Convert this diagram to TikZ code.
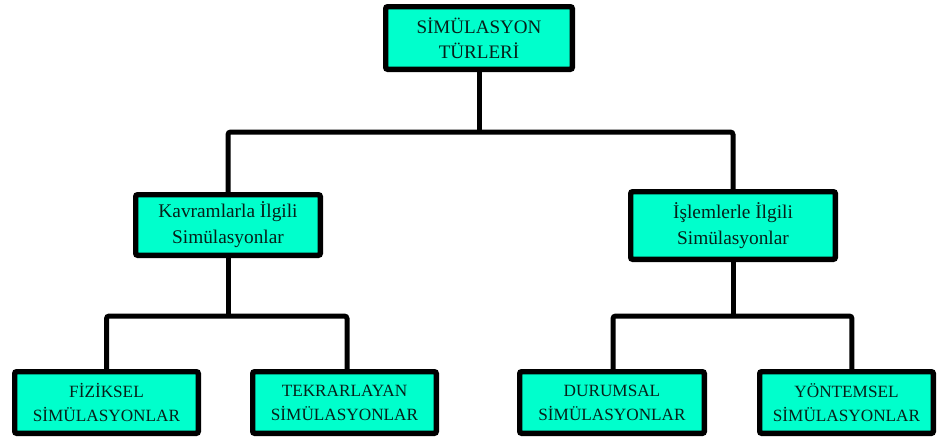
\documentclass[tikz,border=0pt]{standalone}
\usepackage{fontspec}
\setmainfont{Liberation Serif}
\definecolor{boxfill}{HTML}{00FFCC}
\definecolor{boxtext}{HTML}{06201A}
\begin{document}
\begin{tikzpicture}[x=0.75pt,y=-0.75pt,
  box/.style={draw=black,fill=boxfill,line width=4pt,rounded corners=1.5pt,
    inner sep=0pt,align=center,text=boxtext},
  topbox/.style={box,minimum width=140pt,minimum height=47pt,
    font=\fontsize{14.3}{18.75}\selectfont},
  midbox/.style={box,font=\fontsize{14.5}{19.5}\selectfont},
  leafbox/.style={box,minimum height=46.25pt,
    font=\fontsize{12.9}{18}\selectfont},
  conn/.style={draw=black,line width=3.75pt,rounded corners=2pt}]
\useasboundingbox (0,0) rectangle (937,439);

% root
\node[topbox] (root) at (479,38) {SİMÜLASYON\\TÜRLERİ};

% second level
\node[midbox,minimum width=138.5pt,minimum height=45.5pt] (kav) at (228,225)
  {Kavramlarla İlgili\\Simülasyonlar};
\node[midbox,minimum width=153.5pt,minimum height=50.75pt] (isl) at (733,225.5)
  {İşlemlerle İlgili\\Simülasyonlar};

% leaves
\node[leafbox,minimum width=137.75pt] (fiz) at (106.5,402.5) {FİZİKSEL\\SİMÜLASYONLAR};
\node[leafbox,minimum width=137.75pt] (tek) at (344.5,402.5) {TEKRARLAYAN\\SİMÜLASYONLAR};
\node[leafbox,minimum width=138.5pt] (dur) at (612,402.5) {DURUMSAL\\SİMÜLASYONLAR};
\node[leafbox,minimum width=130.25pt] (yon) at (846.5,402.5) {YÖNTEMSEL\\SİMÜLASYONLAR};

% junctions of the tree
\coordinate (j0) at (479,132);
\coordinate (jl) at (228,316);
\coordinate (jr) at (733,316);

% connectors
\draw[conn] (root.south) -- (j0);
\draw[conn] (kav.north) |- (j0) -| (isl.north);
\draw[conn] (kav.south) -- (jl);
\draw[conn] (isl.south) -- (jr);
\draw[conn] (fiz.north) |- (jl) -| ([xshift=1.9pt]tek.north);
\draw[conn] ([xshift=0.75pt]dur.north) |- (jr) -| ([xshift=4.1pt]yon.north);
\end{tikzpicture}
\end{document}
